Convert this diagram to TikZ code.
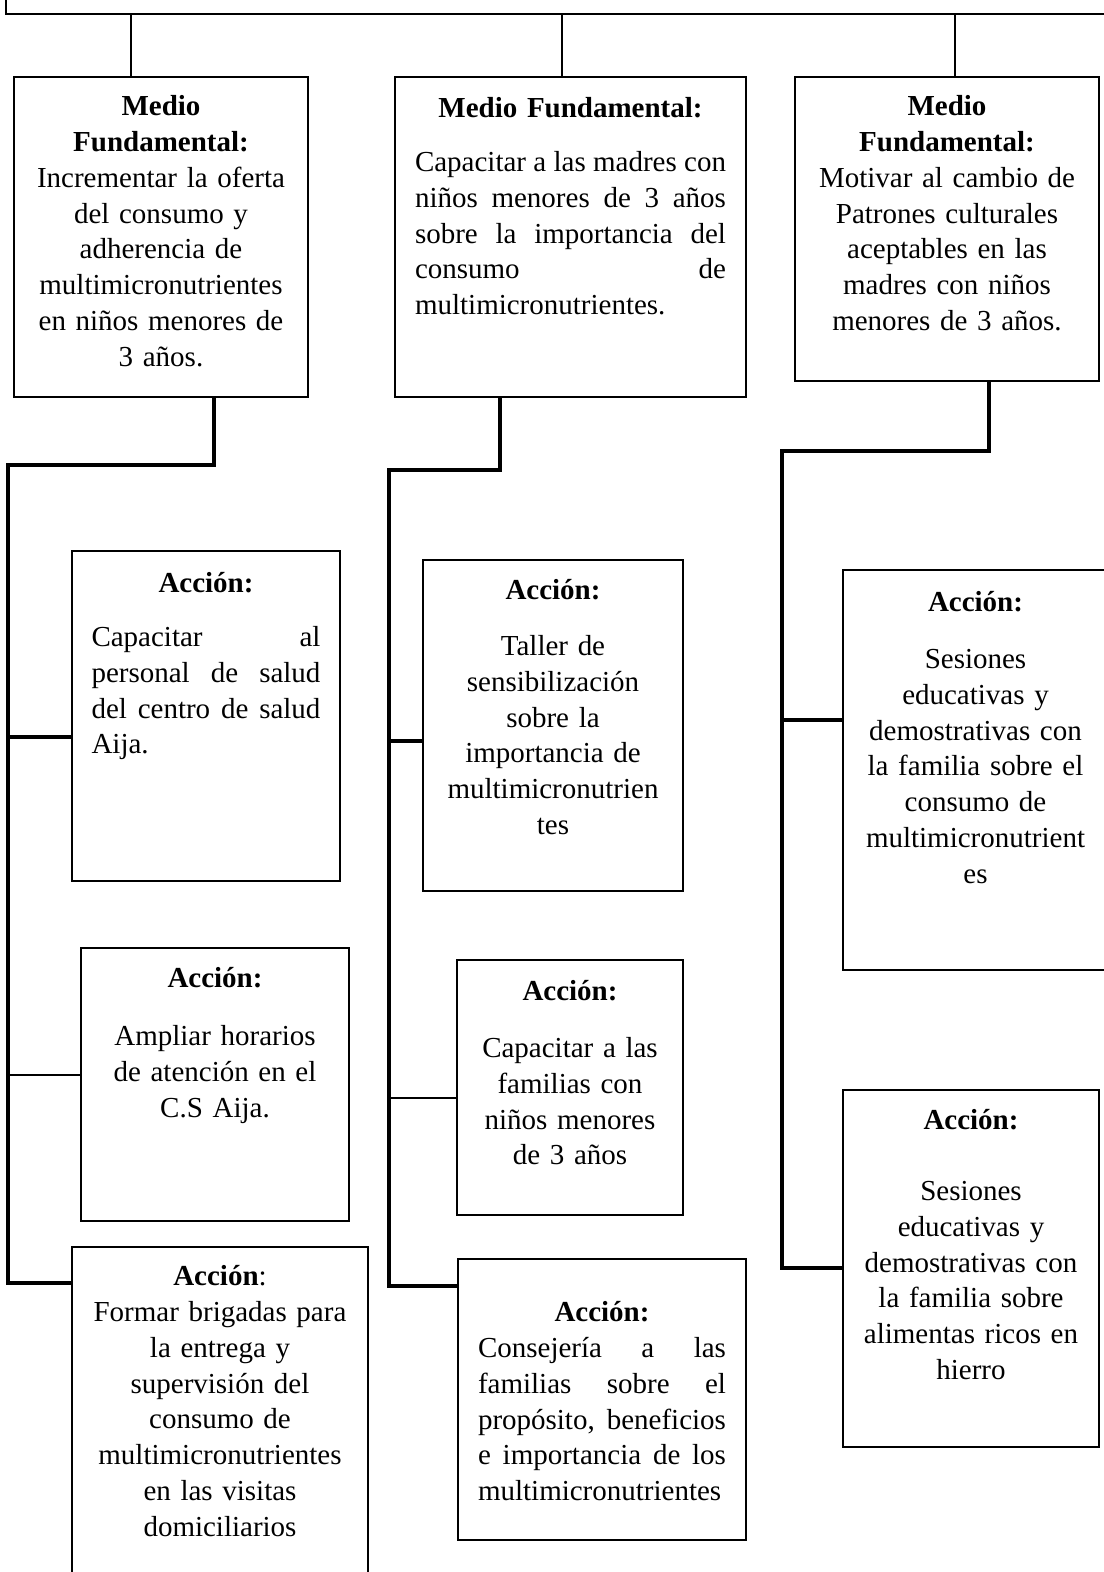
\documentclass[tikz,border=0pt]{standalone}
\usepackage{fontspec}
\setmainfont{Liberation Serif}
\usetikzlibrary{positioning}

\begin{document}
\begin{tikzpicture}[
    x=0.02cm, y=-0.02cm,
    every node/.style={font=\fontsize{16.5}{20.4}\selectfont},
    box/.style={rectangle, draw, line width=1.1pt},
    txt/.style={inner sep=0pt, align=center},
    jtxt/.style={inner sep=0pt, align=left},
    drop/.style={line width=1.3pt},
    conn/.style={line width=2.3pt},
    thinconn/.style={line width=0.7pt}
]
\useasboundingbox (0,0) rectangle (1103,1572);

% Top box (cut off)
\node[box, minimum width=22.14cm, minimum height=2.56cm] (fin) at (559.5,-50) {};

% Medios fundamentales
\node[box, minimum width=5.88cm, minimum height=6.4cm] (mf1) at (161,237) {};
\node[txt, text width=5.7cm, below=0.38cm of mf1.north] (mf1t) {\textbf{Medio}\\ \textbf{Fundamental:}\\ Incrementar la oferta\\ del consumo y\\ adherencia de\\ multimicronutrientes\\ en niños menores de\\ 3 años.};

\node[box, minimum width=7.02cm, minimum height=6.4cm] (mf2) at (570.5,237) {};
\node[jtxt, text width=6.22cm, below=0.42cm of mf2.north] (mf2t) {\makebox[\linewidth][c]{\textbf{Medio Fundamental:}}\\[0.36cm]
Capacitar\hfill a\hfill las\hfill madres\hfill con\\
niños\hfill menores\hfill de\hfill 3\hfill años\\
sobre\hfill la\hfill importancia\hfill del\\
consumo\hfill de\\
multimicronutrientes.};

\node[box, minimum width=6.08cm, minimum height=6.08cm] (mf3) at (947,229) {};
\node[txt, text width=5.9cm, below=0.38cm of mf3.north] (mf3t) {\textbf{Medio}\\ \textbf{Fundamental:}\\ Motivar al cambio de\\ Patrones culturales\\ aceptables en las\\ madres con niños\\ menores de 3 años.};

% Acciones, columna 1
\node[box, minimum width=5.36cm, minimum height=6.6cm] (a1) at (206,716) {};
\node[jtxt, text width=4.58cm, below=0.44cm of a1.north] (a1t) {\makebox[\linewidth][c]{\textbf{Acción:}}\\[0.36cm]
Capacitar\hfill al\\
personal\hfill de\hfill salud\\
del\hfill centro\hfill de\hfill salud\\
Aija.};

\node[box, minimum width=5.36cm, minimum height=5.46cm] (a2) at (215,1084.5) {};
\node[txt, text width=5.2cm, below=0.40cm of a2.north] (a2t) {\textbf{Acción:}\\[0.44cm] Ampliar horarios\\ de atención en el\\ C.S Aija.};

\node[box, minimum width=5.92cm, minimum height=7.46cm] (a3) at (220,1433.5) {};
\node[txt, text width=5.7cm, below=0.38cm of a3.north] (a3t) {\textbf{Acción}:\\ Formar brigadas para\\ la entrega y\\ supervisión del\\ consumo de\\ multimicronutrientes\\ en las visitas\\ domiciliarios};

% Acciones, columna 2
\node[box, minimum width=5.2cm, minimum height=6.62cm] (b1) at (553,725.5) {};
\node[txt, text width=5cm, below=0.40cm of b1.north] (b1t) {\textbf{Acción:}\\[0.40cm] Taller de\\ sensibilización\\ sobre la\\ importancia de\\ multimicronutrien\\ tes};

\node[box, minimum width=4.52cm, minimum height=5.1cm] (b2) at (570,1087.5) {};
\node[txt, text width=4.36cm, below=0.42cm of b2.north] (b2t) {\textbf{Acción:}\\[0.42cm] Capacitar a las\\ familias con\\ niños menores\\ de 3 años};

\node[box, minimum width=5.76cm, minimum height=5.62cm] (b3) at (602,1399.5) {};
\node[jtxt, text width=4.96cm, below=0.86cm of b3.north] (b3t) {\makebox[\linewidth][c]{\textbf{Acción:}}\\
Consejería\hfill a\hfill las\\
familias\hfill sobre\hfill el\\
propósito,\hfill beneficios\\
e\hfill importancia\hfill de\hfill los\\
multimicronutrientes};

% Acciones, columna 3
\node[box, minimum width=5.3cm, minimum height=8cm] (c1) at (975.5,770) {};
\node[txt, text width=5.1cm, below=0.44cm of c1.north] (c1t) {\textbf{Acción:}\\[0.42cm] Sesiones\\ educativas y\\ demostrativas con\\ la familia sobre el\\ consumo de\\ multimicronutrient\\ es};

\node[box, minimum width=5.12cm, minimum height=7.14cm] (c2) at (971,1268.5) {};
\node[txt, text width=4.9cm, below=0.40cm of c2.north] (c2t) {\textbf{Acción:}\\[0.70cm] Sesiones\\ educativas y\\ demostrativas con\\ la familia sobre\\ alimentas ricos en\\ hierro};

% Drops from top box
\coordinate (d1) at (131,0);
\coordinate (d2) at (562,0);
\coordinate (d3) at (955,0);
\draw[drop] (fin.south -| d1) -- (mf1.north -| d1);
\draw[drop] (fin.south -| d2) -- (mf2.north -| d2);
\draw[drop] (fin.south -| d3) -- (mf3.north -| d3);

% Column 1 links
\coordinate (s1) at (214,465);
\coordinate (k1) at (8,465);
\coordinate (e1) at (8,1283);
\coordinate (h11) at (8,737);
\coordinate (h12) at (8,1075);
\draw[conn] (mf1.south -| s1) -- (s1) -- (k1) -- (e1) -- (e1 -| a3.west);
\draw[conn] (h11) -- (h11 -| a1.west);
\draw[thinconn] (h12) -- (h12 -| a2.west);

% Column 2 links
\coordinate (s2) at (500,470);
\coordinate (k2) at (389,470);
\coordinate (e2) at (389,1286);
\coordinate (h21) at (389,741);
\coordinate (h22) at (389,1098);
\draw[conn] (mf2.south -| s2) -- (s2) -- (k2) -- (e2) -- (e2 -| b3.west);
\draw[conn] (h21) -- (h21 -| b1.west);
\draw[thinconn] (h22) -- (h22 -| b2.west);

% Column 3 links
\coordinate (s3) at (989,451);
\coordinate (k3) at (782,451);
\coordinate (e3) at (782,1268);
\coordinate (h31) at (782,720);
\draw[conn] (mf3.south -| s3) -- (s3) -- (k3) -- (e3) -- (e3 -| c2.west);
\draw[conn] (h31) -- (h31 -| c1.west);

\end{tikzpicture}
\end{document}
